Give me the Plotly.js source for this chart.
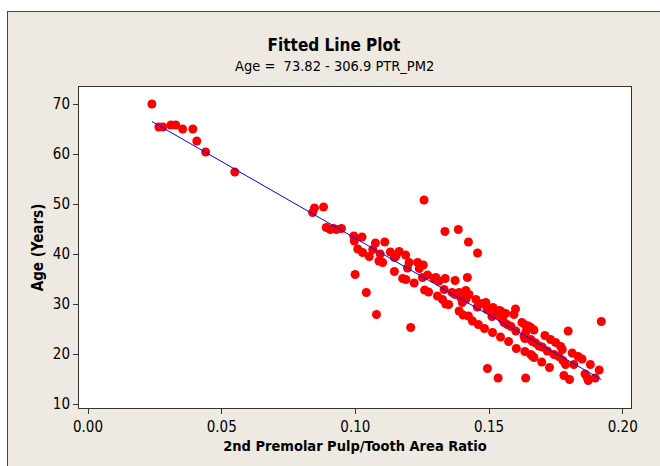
<!DOCTYPE html>
<html>
<head>
<meta charset="utf-8">
<script src="https://cdn.plot.ly/plotly-3.0.1.min.js"></script>
<style>
  html, body { margin:0; padding:0; background:#ffffff; overflow:hidden; }
  #frame { position:absolute; left:7px; top:11px; width:660px; height:470px; background:#EEEAE1; border-left:1.5px solid #444; border-top:1.5px solid #444; }
  #chart { position:absolute; left:0; top:0; width:660px; height:466px; }
</style>
</head>
<body>
<div id="frame"></div>
<div id="chart"></div>
<script>
// Observed data: 2nd premolar pulp/tooth area ratio vs age
const ratio = [
  0.0239,0.0265,0.0280,0.0310,0.0328,0.0354,0.0392,0.0407,0.0440,0.0549,
  0.0840,0.0847,0.0881,0.0891,0.0906,0.0919,0.0929,0.0948,0.0994,0.0996,
  0.1025,0.1009,0.1027,0.1052,0.1075,0.1065,0.1110,0.1093,0.1088,0.1102,
  0.1131,0.1152,0.1164,0.1146,0.1188,0.1201,0.1195,0.1146,0.1177,0.1189,
  0.1220,0.1233,0.1254,0.1239,0.1251,0.1270,0.1295,0.1313,0.1336,0.1259,
  0.1274,0.1307,0.1326,0.1338,0.1332,0.0999,0.1041,0.1079,0.1207,0.1257,
  0.1335,0.1385,0.1423,0.1457,0.1419,0.1373,0.1301,0.1349,0.1362,0.1373,
  0.1388,0.1413,0.1425,0.1394,0.1400,0.1413,0.1388,0.1403,0.1423,0.1438,
  0.1460,0.1483,0.1513,0.1543,0.1573,0.1602,0.1634,0.1662,0.1451,0.1476,
  0.1488,0.1456,0.1493,0.1515,0.1537,0.1562,0.1599,0.1531,0.1511,0.1550,
  0.1556,0.1568,0.1582,0.1600,0.1593,0.1544,0.1623,0.1636,0.1647,0.1656,
  0.1668,0.1637,0.1634,0.1631,0.1656,0.1662,0.1674,0.1687,0.1699,0.1718,
  0.1743,0.1761,0.1656,0.1668,0.1697,0.1726,0.1709,0.1730,0.1749,0.1768,
  0.1774,0.1786,0.1776,0.1811,0.1833,0.1848,0.1817,0.1879,0.1912,0.1796,
  0.1780,0.1801,0.1859,0.1868,0.1897,0.1871,0.1920,0.1494,0.1534,0.1637
];
const age = [
  70.0,65.4,65.4,65.8,65.8,65.0,65.0,62.6,60.4,56.4,
  48.3,49.2,49.4,45.3,44.9,45.1,44.9,45.1,43.6,42.6,
  43.4,41.0,40.3,39.5,42.2,40.9,42.4,40.0,38.6,38.3,
  40.4,39.6,40.5,39.3,39.8,38.3,37.2,36.5,35.1,34.9,
  34.2,38.3,37.8,37.1,35.3,35.8,35.1,34.6,35.1,32.8,
  32.4,31.6,30.9,30.0,32.9,35.9,32.3,27.9,25.3,50.8,
  44.5,44.9,42.4,40.2,35.3,34.7,35.3,29.9,32.3,31.9,
  32.3,32.7,31.9,31.3,30.3,30.9,28.6,27.8,27.6,26.6,
  25.9,25.1,24.3,23.4,22.5,21.1,20.5,19.6,30.9,30.1,
  30.3,29.4,28.9,29.3,28.7,28.1,29.0,27.9,27.5,26.9,
  26.3,25.9,25.5,24.6,27.9,28.6,26.3,25.8,25.6,25.3,
  24.8,24.3,23.1,23.6,22.9,22.5,22.2,21.6,21.4,20.6,
  19.9,19.5,19.9,19.3,18.4,17.3,23.7,22.9,22.3,21.5,
  20.9,17.9,18.7,20.2,19.5,19.0,17.9,17.9,16.8,24.6,
  15.7,14.9,16.0,15.2,15.2,14.7,26.5,17.1,15.2,15.2
];
// Fitted line endpoints: Age = 73.82 - 306.9 PTR_PM2
const fitX = [0.0239, 0.1920];
const fitY = [66.49, 14.90];
const xTicks = [0.00, 0.05, 0.10, 0.15, 0.20];
const xTickText = ['0.00', '0.05', '0.10', '0.15', '0.20'];
const yTicks = [10, 20, 30, 40, 50, 60, 70];

const FONT = "'DejaVu Sans Condensed', 'DejaVu Sans', sans-serif";

const traces = [
  {
    x: ratio, y: age, type: 'scatter', mode: 'markers',
    marker: { color: '#FF0000', size: 9, line: { width: 0 } },
    hoverinfo: 'x+y', showlegend: false
  },
  {
    x: fitX, y: fitY, type: 'scatter', mode: 'lines',
    line: { color: '#0000FF', width: 1 },
    hoverinfo: 'skip', showlegend: false
  }
];

const layout = {
  width: 660, height: 466,
  paper_bgcolor: 'rgba(0,0,0,0)',
  plot_bgcolor: '#FFFFFF',
  margin: { l: 79, r: 29, t: 87, b: 58, pad: 0 },
  font: { family: FONT, size: 14, color: '#000000' },
  title: {
    text: '<b>Fitted Line Plot</b>',
    font: { family: FONT, size: 17, color: '#000000' },
    xref: 'container', x: 334 / 660, xanchor: 'center',
    yref: 'container', y: 1 - 45 / 466, yanchor: 'middle'
  },
  annotations: [{
    text: 'Age =\u00A0 73.82 - 306.9 PTR_PM2',
    xref: 'paper', yref: 'paper',
    x: (334 - 79) / 552, y: 1 + (87 - 66) / 321,
    xanchor: 'center', yanchor: 'middle', showarrow: false,
    font: { family: FONT, size: 14.5, color: '#000000' }
  }],
  xaxis: {
    range: [-0.00337, 0.2031],
    tickvals: xTicks, ticktext: xTickText,
    ticks: 'outside', ticklen: 5, tickwidth: 1, tickcolor: '#333',
    showline: true, linecolor: '#333', linewidth: 1, mirror: true,
    showgrid: false, zeroline: false,
    tickfont: { family: FONT, size: 15, color: '#000' },
    title: { text: '<b>2nd Premolar Pulp/Tooth Area Ratio</b>', font: { family: FONT, size: 14.5, color: '#000' }, standoff: 5 }
  },
  yaxis: {
    range: [9.2, 73.4],
    tickvals: yTicks,
    ticks: 'outside', ticklen: 5, tickwidth: 1, tickcolor: '#333',
    showline: true, linecolor: '#333', linewidth: 1, mirror: true,
    showgrid: false, zeroline: false,
    tickfont: { family: FONT, size: 15, color: '#000' },
    title: { text: '<b>Age (Years)</b>', font: { family: FONT, size: 15, color: '#000' }, standoff: 5 }
  }
};

Plotly.newPlot('chart', traces, layout, { displayModeBar: false, staticPlot: true });
</script>
</body>
</html>
